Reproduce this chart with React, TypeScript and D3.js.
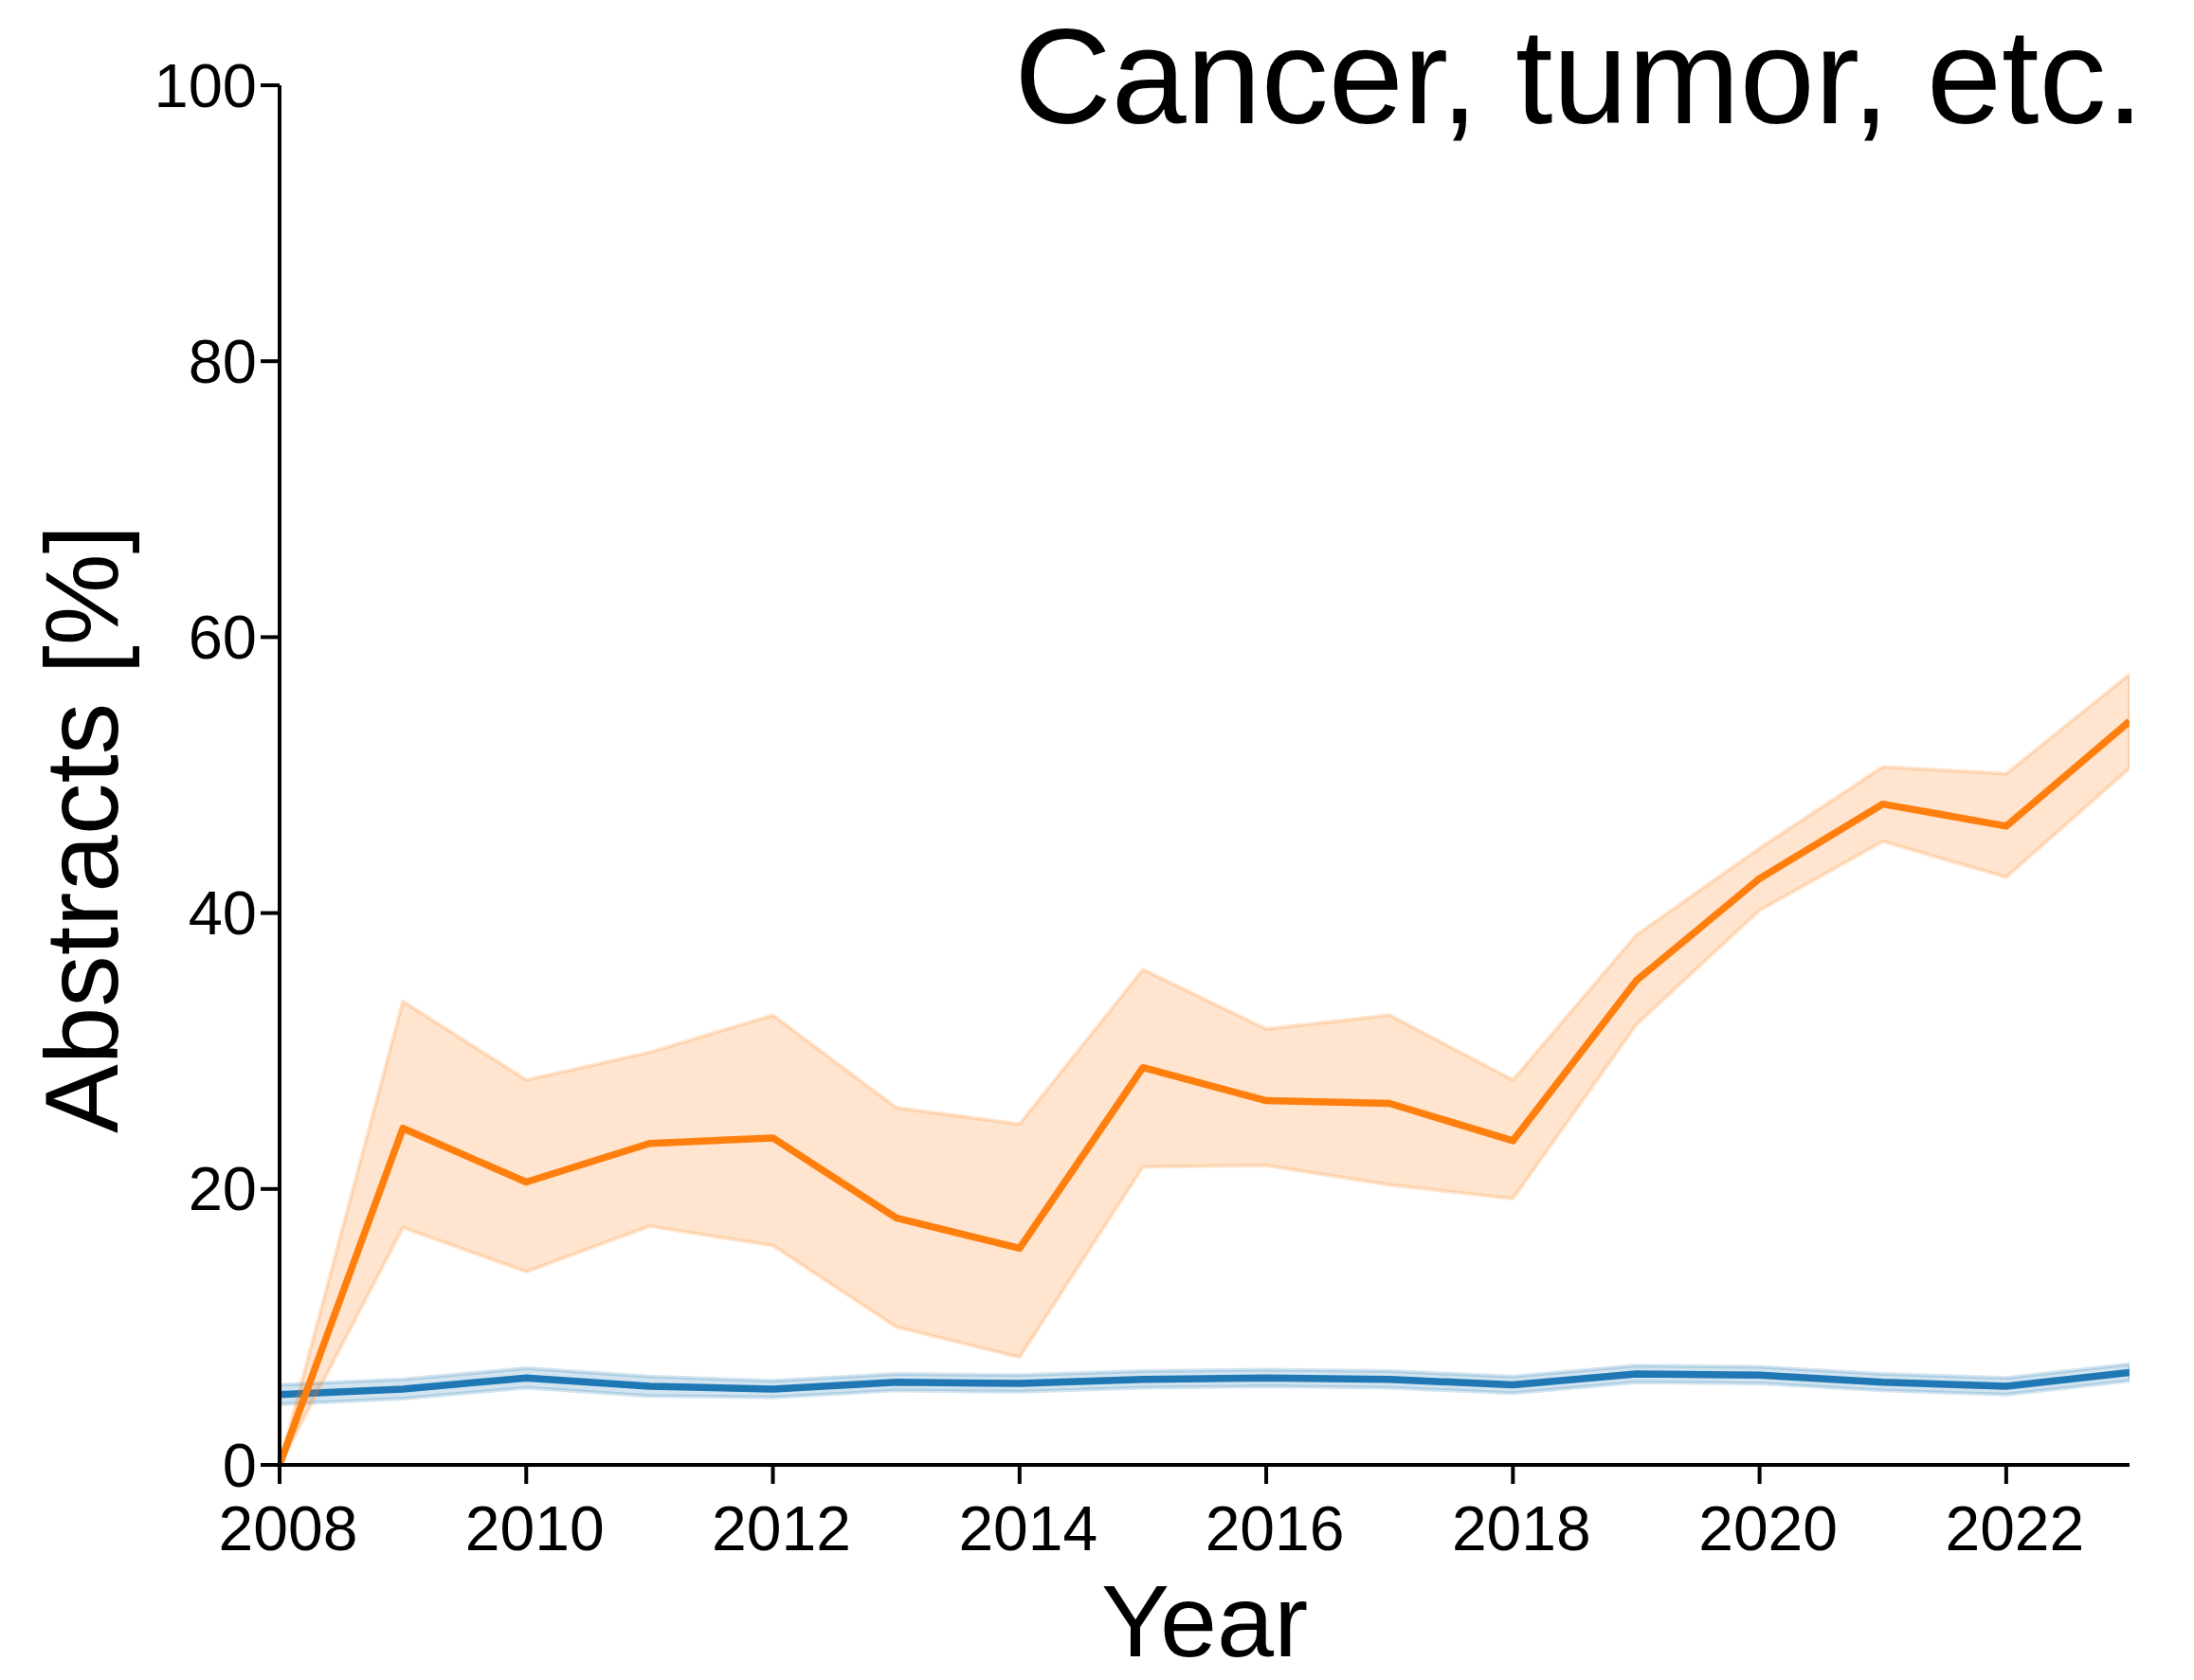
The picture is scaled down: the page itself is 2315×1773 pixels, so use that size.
import React from "react";
import * as d3 from "d3";

const years = [2008, 2009, 2010, 2011, 2012, 2013, 2014, 2015, 2016, 2017, 2018, 2019, 2020, 2021, 2022, 2023];

const blueMean = [5.1, 5.5, 6.3, 5.7, 5.5, 6.0, 5.9, 6.2, 6.3, 6.2, 5.8, 6.6, 6.5, 6.0, 5.7, 6.7];
const blueLower = [4.4, 4.8, 5.6, 5.0, 4.9, 5.4, 5.3, 5.6, 5.7, 5.6, 5.2, 6.0, 5.9, 5.4, 5.1, 6.1];
const blueUpper = [5.8, 6.2, 7.0, 6.4, 6.1, 6.6, 6.5, 6.8, 6.9, 6.8, 6.4, 7.2, 7.1, 6.6, 6.3, 7.3];

const orangeMean = [0, 24.4, 20.5, 23.3, 23.7, 17.9, 15.7, 28.8, 26.4, 26.2, 23.5, 35.1, 42.5, 47.9, 46.3, 53.9];
const orangeUpper = [0, 33.6, 27.9, 29.9, 32.6, 25.9, 24.7, 35.9, 31.6, 32.6, 27.9, 38.4, 44.7, 50.6, 50.1, 57.3];
const orangeLower = [0, 17.2, 14.0, 17.3, 15.9, 10.0, 7.8, 21.6, 21.7, 20.3, 19.3, 31.9, 40.2, 45.2, 42.6, 50.5];

const xTicks = [2008, 2010, 2012, 2014, 2016, 2018, 2020, 2022];
const yTicks = [0, 20, 40, 60, 80, 100];

const title = "Cancer, tumor, etc.";
const xLabel = "Year";
const yLabel = "Abstracts [%]";

const W = 2315;
const H = 1773;
const left = 295;
const right = 2247;
const top = 90;
const bottom = 1546;
const FONT = "'Liberation Sans', Arial, Helvetica, sans-serif";

export default function App() {
  const x = d3.scaleLinear().domain([2008, 2023]).range([left, right]);
  const y = d3.scaleLinear().domain([0, 100]).range([bottom, top]);

  const series = [
    { color: "#1f77b4", mean: blueMean, lo: blueLower, hi: blueUpper },
    { color: "#ff7f0e", mean: orangeMean, lo: orangeLower, hi: orangeUpper },
  ];

  const area = (lo: number[], hi: number[]) =>
    d3
      .area<number>()
      .x((_, i) => x(years[i]))
      .y0((_, i) => y(lo[i]))
      .y1((_, i) => y(hi[i]))(years.map((_, i) => i)) as string;

  const line = (vals: number[]) =>
    d3
      .line<number>()
      .x((_, i) => x(years[i]))
      .y((d) => y(d))(vals) as string;

  return (
    <svg
      width={W}
      height={H}
      style={{ position: "absolute", left: 0, top: 0, background: "#fff" }}
      fontFamily={FONT}
    >
      <rect x={0} y={0} width={W} height={H} fill="#fff" />
      <defs>
        <clipPath id="plot">
          <rect x={left} y={top - 5} width={right - left} height={bottom - top + 5} />
        </clipPath>
      </defs>
      <g clipPath="url(#plot)">
        {series.map((s, k) => (
          <g key={k}>
            <path
              d={area(s.lo, s.hi)}
              fill={s.color}
              fillOpacity={0.2}
              stroke={s.color}
              strokeOpacity={0.2}
              strokeWidth={4}
              strokeLinejoin="round"
            />
            <path
              d={line(s.mean)}
              fill="none"
              stroke={s.color}
              strokeWidth={7.5}
              strokeLinejoin="round"
              strokeLinecap="butt"
            />
          </g>
        ))}
      </g>

      {/* axes */}
      <line x1={left} x2={left} y1={top} y2={bottom + 2} stroke="#000" strokeWidth={4} />
      <line x1={left - 2} x2={right} y1={bottom} y2={bottom} stroke="#000" strokeWidth={4} />

      {yTicks.map((t) => (
        <g key={"y" + t}>
          <line x1={left - 20} x2={left} y1={y(t)} y2={y(t)} stroke="#000" strokeWidth={4} />
          <text
            x={left - 24}
            y={y(t)}
            fontSize={65}
            textAnchor="end"
            dominantBaseline="central"
            fill="#000"
          >
            {t}
          </text>
        </g>
      ))}

      {xTicks.map((t) => (
        <g key={"x" + t}>
          <line x1={x(t)} x2={x(t)} y1={bottom} y2={bottom + 20} stroke="#000" strokeWidth={4} />
          <text x={x(t) + 9} y={1636} fontSize={66} textAnchor="middle" fill="#000">
            {t}
          </text>
        </g>
      ))}

      <text x={(left + right) / 2} y={1748} fontSize={108} textAnchor="middle" fill="#000">
        {xLabel}
      </text>
      <text
        transform={`translate(124, 875) rotate(-90)`}
        fontSize={109}
        textAnchor="middle"
        fill="#000"
      >
        {yLabel}
      </text>
      <text x={2262} y={130} fontSize={142} textAnchor="end" fill="#000">
        {title}
      </text>
    </svg>
  );
}
